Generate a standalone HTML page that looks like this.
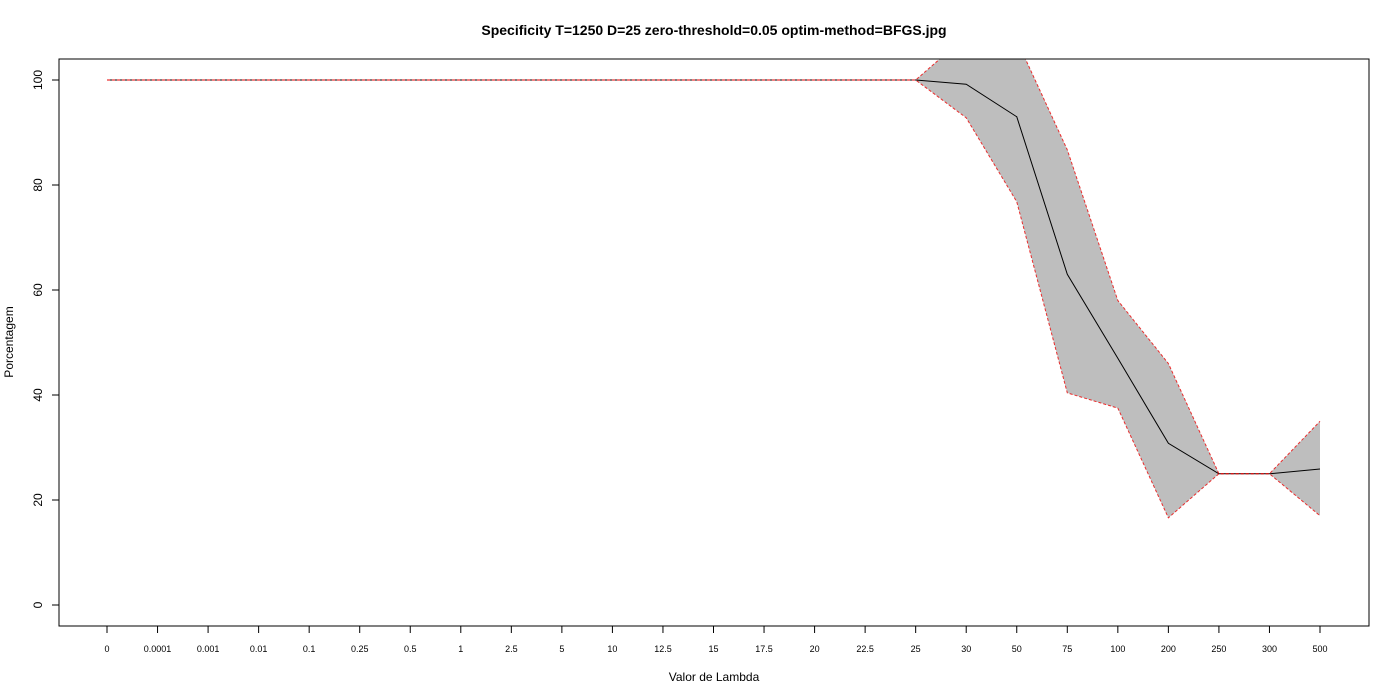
<!DOCTYPE html>
<html><head><meta charset="utf-8"><style>
body{margin:0;background:#fff;}
svg{display:block;font-family:"Liberation Sans",sans-serif;}
</style></head><body>
<svg id="chart" width="1400" height="700">
<defs><clipPath id="clip"><rect x="59" y="59" width="1310" height="567"/></clipPath></defs>
<rect width="1400" height="700" fill="#fff"/>
<text x="714" y="35" text-anchor="middle" font-size="14" font-weight="bold">Specificity T=1250 D=25 zero-threshold=0.05 optim-method=BFGS.jpg</text>
<g id="band" clip-path="url(#clip)"></g>
<rect x="59" y="59" width="1310" height="567" fill="none" stroke="#000"/>
<g id="axes"></g>
<text x="714" y="681" text-anchor="middle" font-size="12">Valor de Lambda</text>
<text transform="translate(13,342) rotate(-90)" text-anchor="middle" font-size="12">Porcentagem</text>
</svg>
<script>
const categories=["0","0.0001","0.001","0.01","0.1","0.25","0.5","1","2.5","5","10","12.5","15","17.5","20","22.5","25","30","50","75","100","200","250","300","500"];
const meanVals=[100,100,100,100,100,100,100,100,100,100,100,100,100,100,100,100,100,99.2,93,63,47,30.8,25,25,25.9];
const upperVals=[100,100,100,100,100,100,100,100,100,100,100,100,100,100,100,100,100,108.4,107.6,86.7,58,46,25,25,35];
const lowerVals=[100,100,100,100,100,100,100,100,100,100,100,100,100,100,100,100,100,92.8,76.8,40.4,37.5,16.6,25,25,17];
const yTicks=[0,20,40,60,80,100];
const NS="http://www.w3.org/2000/svg";
const xs=i=>107+i*(1320-107)/(categories.length-1);
const ys=v=>605-v*5.25;
function mk(tag,attrs,parent){const e=document.createElementNS(NS,tag);for(const k in attrs)e.setAttribute(k,attrs[k]);parent.appendChild(e);return e;}
const band=document.getElementById('band'),axes=document.getElementById('axes');
const up=upperVals.map((v,i)=>xs(i)+','+ys(v));
const lo=lowerVals.map((v,i)=>xs(i)+','+ys(v)).reverse();
let p=mk('polygon',{points:up.concat(lo).join(' '),fill:'#bebebe',stroke:'none'},band);


let l=mk('polyline',{points:meanVals.map((v,i)=>xs(i)+','+ys(v)).join(' '),fill:'none',stroke:'#000','stroke-width':1},band);


let u=mk('polyline',{points:up.join(' '),fill:'none',stroke:'#e00','stroke-width':1,'stroke-dasharray':'3,2','stroke-opacity':0.8},band);


let w=mk('polyline',{points:lowerVals.map((v,i)=>xs(i)+','+ys(v)).join(' '),fill:'none',stroke:'#e00','stroke-width':1,'stroke-dasharray':'3,2','stroke-opacity':0.8},band);


categories.forEach((c,i)=>{
 mk('line',{x1:xs(i),x2:xs(i),y1:626,y2:633,stroke:'#000'},axes);
 const t=mk('text',{x:xs(i),y:652,'text-anchor':'middle','font-size':9},axes);t.textContent=c;
 
 
});
yTicks.forEach(v=>{
 mk('line',{x1:52,x2:59,y1:ys(v),y2:ys(v),stroke:'#000'},axes);
 const t=mk('text',{transform:`translate(42,${ys(v)}) rotate(-90)`,'text-anchor':'middle','font-size':12},axes);t.textContent=v;
 
 
});
</script>
</body></html>
